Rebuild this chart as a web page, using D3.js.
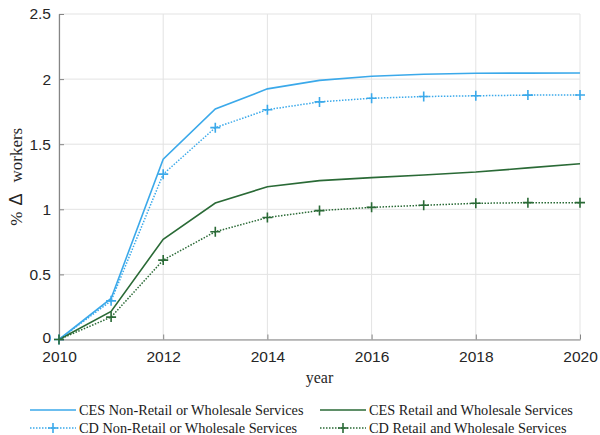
<!DOCTYPE html>
<html>
<head>
<meta charset="utf-8">
<script src="https://cdn.jsdelivr.net/npm/d3@7"></script>
<style>
  html, body { margin: 0; padding: 0; background: #fff; }
  svg { display: block; }
</style>
</head>
<body>
<svg id="chart" width="600" height="435"></svg>
<script>
// Years on the horizontal axis
const years = [2010, 2011, 2012, 2013, 2014, 2015, 2016, 2017, 2018, 2019, 2020];

// Cumulative % change in workers, by series
const cesNonRetail = [0, 0.315, 1.385, 1.77, 1.925, 1.99, 2.022, 2.037, 2.045, 2.046, 2.047];
const cdNonRetail  = [0, 0.297, 1.27, 1.627, 1.765, 1.825, 1.853, 1.866, 1.872, 1.877, 1.878];
const cesRetail    = [0, 0.216, 0.77, 1.048, 1.173, 1.22, 1.243, 1.264, 1.286, 1.318, 1.35];
const cdRetail     = [0, 0.172, 0.61, 0.828, 0.937, 0.99, 1.015, 1.031, 1.046, 1.051, 1.051];

// Tick values
const xTicks = [2010, 2012, 2014, 2016, 2018, 2020];
const yTicks = [0, 0.5, 1, 1.5, 2, 2.5];

const BLUE = "#3ba9ea";
const GREEN = "#2a6a36";

const series = [
  { name: "CES Non-Retail or Wholesale Services", values: cesNonRetail, color: BLUE,  dotted: false, marker: false },
  { name: "CES Retail and Wholesale Services",    values: cesRetail,    color: GREEN, dotted: false, marker: false },
  { name: "CD Non-Retail or Wholesale Services",  values: cdNonRetail,  color: BLUE,  dotted: true,  marker: true },
  { name: "CD Retail and Wholesale Services",     values: cdRetail,     color: GREEN, dotted: true,  marker: true }
];

const svg = d3.select("#chart");
const plot = { left: 59, right: 580, top: 14, bottom: 339.5 };

const x = d3.scaleLinear().domain([2010, 2020]).range([plot.left, plot.right]);
const y = d3.scaleLinear().domain([0, 2.5]).range([plot.bottom, plot.top]);

// Grid
const grid = svg.append("g");
grid.selectAll("line.gx").data(xTicks).join("line")
  .attr("x1", d => x(d)).attr("x2", d => x(d))
  .attr("y1", plot.top).attr("y2", plot.bottom)
  .attr("stroke", "#e3e3e3").attr("stroke-width", 1);
grid.selectAll("line.gy").data(yTicks).join("line")
  .attr("x1", plot.left).attr("x2", plot.right)
  .attr("y1", d => y(d)).attr("y2", d => y(d))
  .attr("stroke", "#e3e3e3").attr("stroke-width", 1);

// Axes
const tickFont = "'Liberation Sans', Arial, sans-serif";
const xAxis = svg.append("g")
  .attr("transform", `translate(0,${plot.bottom})`)
  .call(d3.axisBottom(x).tickValues(xTicks).tickFormat(d3.format("d")).tickSizeInner(-5).tickSizeOuter(0).tickPadding(11));
const yAxis = svg.append("g")
  .attr("transform", `translate(${plot.left},0)`)
  .call(d3.axisLeft(y).tickValues(yTicks).tickFormat(d => String(d)).tickSizeInner(-5).tickSizeOuter(0).tickPadding(8));

[xAxis, yAxis].forEach(g => {
  g.select(".domain").attr("stroke", "#858585").attr("stroke-width", 1.2);
  g.selectAll(".tick line").attr("stroke", "#858585");
  g.selectAll(".tick text")
    .attr("fill", "#262626")
    .style("font-family", tickFont)
    .style("font-size", "15.5px");
});
// Nudge the zero label up a touch so it clears the first year label
yAxis.selectAll(".tick text").filter(d => d === 0).attr("dy", "0.2em");

// Lines
const line = d3.line().x((d, i) => x(years[i])).y(d => y(d));
const lines = svg.append("g");
series.forEach(s => {
  lines.append("path")
    .datum(s.values)
    .attr("d", line)
    .attr("fill", "none")
    .attr("stroke", s.color)
    .attr("stroke-width", s.dotted ? 1.5 : 1.6)
    .attr("stroke-dasharray", s.dotted ? "1.5,1.5" : null);
});

// Plus markers
const plusPath = r => `M${-r},0H${r}M0,${-r}V${r}`;
series.filter(s => s.marker).forEach(s => {
  lines.selectAll(null).data(s.values).join("path")
    .attr("transform", (d, i) => `translate(${x(years[i])},${y(d)})`)
    .attr("d", plusPath(5))
    .attr("stroke", s.color)
    .attr("stroke-width", 1.6)
    .attr("fill", "none");
});

// Axis titles
const serif = "'Liberation Serif', 'Times New Roman', serif";
svg.append("text")
  .attr("x", (plot.left + plot.right) / 2)
  .attr("y", 383)
  .attr("text-anchor", "middle")
  .attr("fill", "#262626")
  .style("font-family", serif)
  .style("font-size", "16px")
  .text("year");

const ylab = svg.append("text")
  .attr("transform", `translate(22,${(plot.top + plot.bottom) / 2}) rotate(-90)`)
  .attr("text-anchor", "middle")
  .attr("fill", "#262626")
  .style("font-family", serif)
  .style("font-size", "17px");
ylab.append("tspan").text("%");
ylab.append("tspan").attr("dx", 6).style("font-family", tickFont).style("font-size", "18px").text("Δ");
ylab.append("tspan").attr("dx", 11).text("workers");

// Legend: two columns, two rows
const legendCols = [30, 320];
const legendRows = [410, 428];
const legendItems = [
  { s: series[0], col: 0, row: 0 },
  { s: series[1], col: 1, row: 0 },
  { s: series[2], col: 0, row: 1 },
  { s: series[3], col: 1, row: 1 }
];
const legend = svg.append("g");
legendItems.forEach(it => {
  const lx = legendCols[it.col], ly = legendRows[it.row];
  const g = legend.append("g");
  g.append("line")
    .attr("x1", lx).attr("x2", lx + 46)
    .attr("y1", ly).attr("y2", ly)
    .attr("stroke", it.s.color)
    .attr("stroke-width", 1.6)
    .attr("stroke-dasharray", it.s.dotted ? "1.5,1.5" : null);
  if (it.s.marker) {
    g.append("path")
      .attr("transform", `translate(${lx + 23},${ly})`)
      .attr("d", plusPath(5))
      .attr("stroke", it.s.color)
      .attr("stroke-width", 1.6);
  }
  g.append("text")
    .attr("x", lx + 49)
    .attr("y", ly)
    .attr("dy", "0.35em")
    .attr("fill", "#1a1a1a")
    .style("font-family", serif)
    .style("font-size", "14.3px")
    .text(it.s.name);
});
</script>
</body>
</html>
